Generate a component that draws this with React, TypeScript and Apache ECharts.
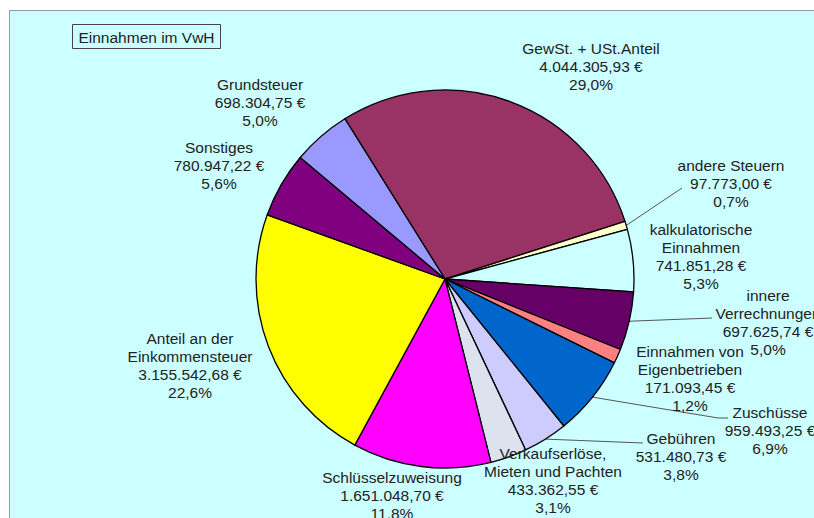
import React, { useEffect, useRef } from "react";
import * as echarts from "echarts";

const title = "Einnahmen im VwH";

const categories = [
  "GewSt. + USt.Anteil",
  "andere Steuern",
  "kalkulatorische\nEinnahmen",
  "innere\nVerrechnungen",
  "Einnahmen von\nEigenbetrieben",
  "Zuschüsse",
  "Gebühren",
  "Verkaufserlöse,\nMieten und Pachten",
  "Schlüsselzuweisung",
  "Anteil an der\nEinkommensteuer",
  "Sonstiges",
  "Grundsteuer",
];

const values = [
  4044305.93, 97773.0, 741851.28, 697625.74, 171093.45, 959493.25, 531480.73,
  433362.55, 1651048.7, 3155542.68, 780947.22, 698304.75,
];

const colors = [
  "#993366", "#FFFFCC", "#CCFFFF", "#660066", "#FF8080", "#0066CC",
  "#CCCCFF", "#DDE3EE", "#FF00FF", "#FFFF00", "#800080", "#9999FF",
];

// label anchor (center x, top y) for each slice
const labelPos: [number, number][] = [
  [591, 39], [731, 156], [701, 220], [768, 286], [690, 342], [770, 403],
  [681, 429], [553, 444], [392, 468], [190, 329], [219, 138], [260, 75],
];

// label line end points for slices with leader lines
const lineEnds: Record<number, [number, number][]> = {
  1: [[682, 188]],
  3: [[712, 318]],
  5: [[718, 418], [728, 418]],
  6: [[643, 443]],
};

const total = values.reduce((a, b) => a + b, 0);

function euro(v: number): string {
  const [i, d] = v.toFixed(2).split(".");
  const grouped = i.replace(/\B(?=(\d{3})+(?!\d))/g, ".");
  return `${grouped},${d} €`;
}

function pct(v: number): string {
  return ((v / total) * 100).toFixed(1).replace(".", ",") + "%";
}

export default function App() {
  const ref = useRef<HTMLDivElement>(null);
  useEffect(() => {
    if (!ref.current) return;
    const chart = echarts.init(ref.current, undefined, { renderer: "svg" });
    const font = "'Liberation Sans', Arial, sans-serif";
    chart.setOption({
      animation: false,
      backgroundColor: "#ffffff",
      graphic: [
        {
          type: "rect",
          z: -10,
          shape: { x: 9.5, y: 10.5, width: 900, height: 600 },
          style: { fill: "#CCFFFF", stroke: "#999999", lineWidth: 1 },
        },
        {
          type: "rect",
          z: 10,
          shape: { x: 72.5, y: 24.5, width: 148, height: 24 },
          style: { fill: "#CCFFFF", stroke: "#444444", lineWidth: 1 },
        },
        {
          type: "text",
          z: 11,
          x: 146.5,
          y: 37,
          style: {
            text: title,
            fill: "#222222",
            font: `15.5px ${font}`,
            textAlign: "center",
            textVerticalAlign: "middle",
          },
        },
      ],
      series: [
        {
          type: "pie",
          center: [445, 279],
          radius: 189,
          startAngle: 122,
          clockwise: true,
          avoidLabelOverlap: false,
          minShowLabelAngle: 0,
          itemStyle: { borderColor: "#000000", borderWidth: 1.3 },
          label: {
            show: true,
            position: "outside",
            color: "#222222",
            fontSize: 15.5,
            lineHeight: 18,
            fontFamily: font,
            align: "center",
            formatter: (p: any) =>
              `${p.name}\n${euro(p.value)}\n${pct(p.value)}`,
          },
          labelLine: {
            show: true,
            lineStyle: { color: "#555555", width: 1 },
          },
          labelLayout: (params: any) => {
            const i = params.dataIndex;
            const [x, y] = labelPos[i];
            const res: any = { x, y, align: "center", verticalAlign: "top" };
            if (lineEnds[i] && params.labelLinePoints) {
              res.labelLinePoints = [params.labelLinePoints[0], ...lineEnds[i]];
            }
            return res;
          },
          data: categories.map((name, i) => ({
            name,
            value: values[i],
            itemStyle: { color: colors[i] },
            labelLine: { show: lineEnds[i] !== undefined },
          })),
        },
      ],
    });
    return () => chart.dispose();
  }, []);
  return (
    <div
      ref={ref}
      style={{ position: "fixed", left: 0, top: 0, width: 814, height: 518 }}
    />
  );
}
